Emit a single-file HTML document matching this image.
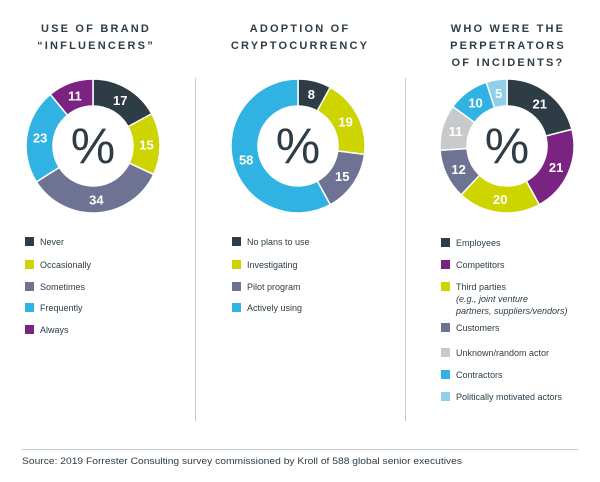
<!DOCTYPE html>
<html><head><meta charset="utf-8"><style>
html,body{margin:0;padding:0;background:#fff;}
svg{display:block;font-family:"Liberation Sans",Arial,sans-serif;}
</style></head><body>
<svg id="chart" width="600" height="482" viewBox="0 0 600 482">
<g fill="#2e3c46" font-weight="bold" font-size="11" letter-spacing="2.2" text-anchor="middle">
<text x="96" y="32">USE OF BRAND</text>
<text x="96" y="49">“INFLUENCERS”</text>
<text x="300" y="32">ADOPTION OF</text>
<text x="300" y="49">CRYPTOCURRENCY</text>
<text x="508" y="32">WHO WERE THE</text>
<text x="508" y="49">PERPETRATORS</text>
<text x="508" y="66">OF INCIDENTS?</text>
</g>
<line x1="195.5" y1="78" x2="195.5" y2="421" stroke="#c8c9cb"/>
<line x1="405.5" y1="78" x2="405.5" y2="421" stroke="#c8c9cb"/>
<line x1="22" y1="449.5" x2="578" y2="449.5" stroke="#c8c9cb"/>
<text x="22" y="464" font-size="9" fill="#2e3c46" textLength="440" lengthAdjust="spacingAndGlyphs">Source: 2019 Forrester Consulting survey commissioned by Kroll of 588 global senior executives</text>
<g id="charts"></g>
</svg>
<script>
const c1Labels = ["Never","Occasionally","Sometimes","Frequently","Always"];
const c1Values = [17,15,34,23,11];
const c1Colors = ["#2e3c46","#cdd400","#6e7393","#30b3e3","#7b2382"];
const c2Labels = ["No plans to use","Investigating","Pilot program","Actively using"];
const c2Values = [8,19,15,58];
const c2Colors = ["#2e3c46","#cdd400","#6e7393","#30b3e3"];
const c3Labels = ["Employees","Competitors","Third parties","Customers","Unknown/random actor","Contractors","Politically motivated actors"];
const c3Values = [21,21,20,12,11,10,5];
const c3Colors = ["#2e3c46","#7b2382","#cdd400","#6e7393","#c8c9cb","#30b3e3","#8fcfea"];

const NS="http://www.w3.org/2000/svg";
const root=document.getElementById('charts');
function mk(tag,attrs,parent){const e=document.createElementNS(NS,tag);for(const k in attrs)e.setAttribute(k,attrs[k]);parent.appendChild(e);return e;}
function pt(cx,cy,r,a){return [cx+r*Math.sin(a),cy-r*Math.cos(a)];}
function donut(name,cx,cy,values,colors,labels,legendX,legendYs){
  const g=mk('g',{},root);
  
  
  const total=values.reduce((a,b)=>a+b,0);
  const R=67,r=40;
  let a0=0;
  values.forEach((v,i)=>{
    const a1=a0+v/total*2*Math.PI;
    const large=(a1-a0)>Math.PI?1:0;
    const [x1,y1]=pt(cx,cy,R,a0),[x2,y2]=pt(cx,cy,R,a1),[x3,y3]=pt(cx,cy,r,a1),[x4,y4]=pt(cx,cy,r,a0);
    const p=mk('path',{d:`M${x1},${y1}A${R},${R} 0 ${large} 1 ${x2},${y2}L${x3},${y3}A${r},${r} 0 ${large} 0 ${x4},${y4}Z`,fill:colors[i],stroke:'#fff','stroke-width':1.5},g);
    
    
    const am=(a0+a1)/2;const [lx,ly]=pt(cx,cy,(R+r)/2,am);
    const t=mk('text',{x:lx,y:ly+5,'text-anchor':'middle','font-size':13,'font-weight':'bold',fill:'#fff'},g);
    t.textContent=v;
    
    
    a0=a1;
  });
  const pc=mk('text',{x:cx,y:cy+17,'text-anchor':'middle','font-size':50,'font-weight':'normal',fill:'#2e3c46'},g);
  pc.textContent='%';
  
  
  labels.forEach((l,i)=>{
    const y=legendYs[i];
    const s=mk('rect',{x:legendX,y:y-8,width:9,height:9,fill:colors[i]},g);
    
    
    const t=mk('text',{x:legendX+15,y:y,'font-size':9,fill:'#2e3c46'},g);
    t.textContent=l;
    
    
  });
  return g;
}
donut('donut-brand-influencers',93,146,c1Values,c1Colors,c1Labels,25,[245,268,290,311,333]);
donut('donut-cryptocurrency',298,146,c2Values,c2Colors,c2Labels,232,[245,268,290,311]);
const g3=donut('donut-perpetrators',507,146,c3Values,c3Colors,c3Labels,441,[246,268,290,331,356,378,400]);
["(e.g., joint venture","partners, suppliers/vendors)"].forEach((s,i)=>{
  const t=mk('text',{x:456,y:302+i*12,'font-size':9,'font-style':'italic',fill:'#2e3c46'},g3);
  t.textContent=s;
  
  
});
</script>
</body></html>
